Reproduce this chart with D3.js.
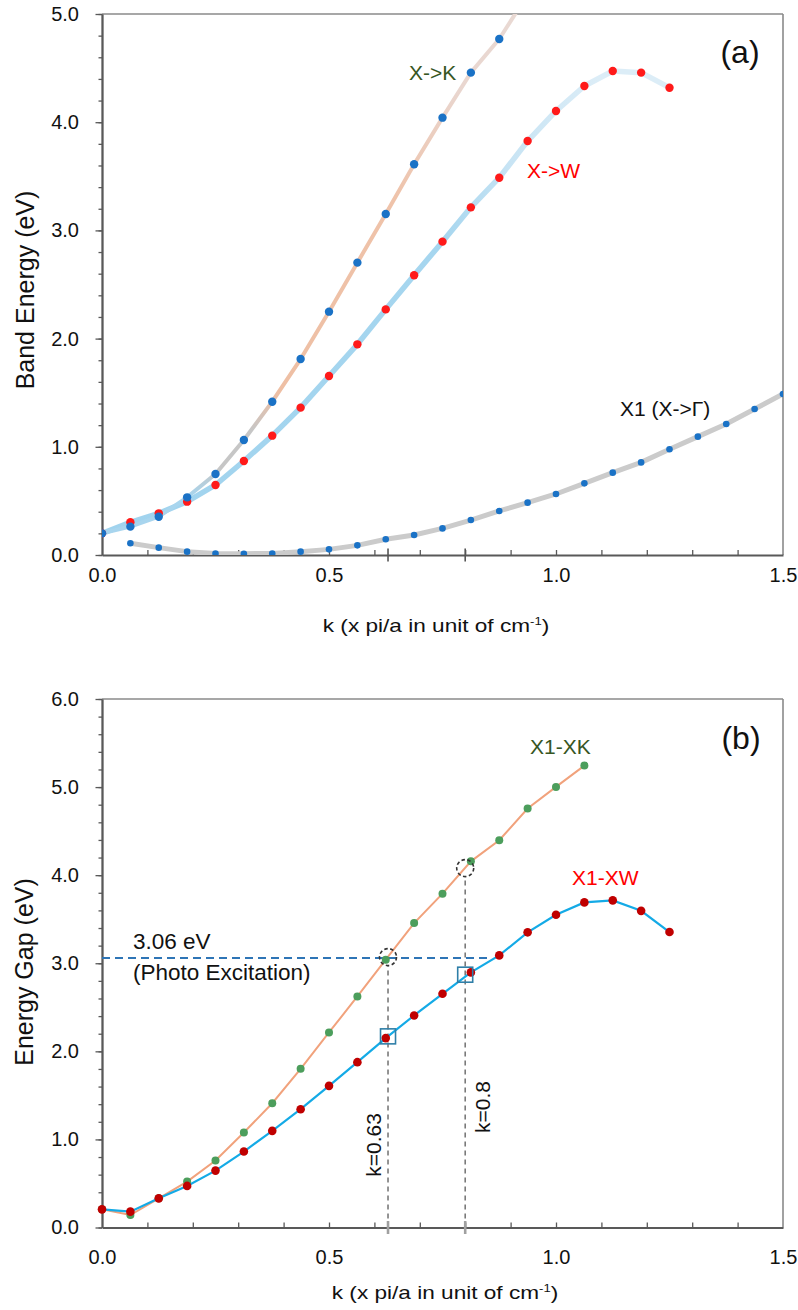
<!DOCTYPE html>
<html>
<head>
<meta charset="utf-8">
<script src="https://cdn.jsdelivr.net/npm/d3@7"></script>
<style>
  body { margin: 0; background: #fff; }
  svg { display: block; }
  text { font-family: "Liberation Sans", Arial, Helvetica, sans-serif; fill: #111; }
</style>
</head>
<body>
<svg id="chart" width="798" height="1310"></svg>
<script>
// k grid (x pi/a), sampled in 1/16 steps
const kGrid = [0, 0.0625, 0.125, 0.1875, 0.25, 0.3125, 0.375, 0.4375, 0.5, 0.5625,
  0.625, 0.6875, 0.75, 0.8125, 0.875, 0.9375, 1.0, 1.0625, 1.125, 1.1875,
  1.25, 1.3125, 1.375, 1.4375, 1.5];

// (a) band energies (eV)
const bandXK = [0.20, 0.262, 0.354, 0.533, 0.749, 1.063, 1.417, 1.811, 2.249, 2.702,
  3.152, 3.611, 4.042, 4.458, 4.769, 5.18];
const bandXW = [0.20, 0.302, 0.385, 0.493, 0.647, 0.869, 1.103, 1.362, 1.654, 1.947,
  2.27, 2.585, 2.896, 3.213, 3.487, 3.826, 4.104, 4.335, 4.473, 4.458, 4.319];
const bandX1 = [null, 0.108, 0.068, 0.031, 0.014, 0.012, 0.014, 0.031, 0.052, 0.089,
  0.145, 0.185, 0.246, 0.323, 0.407, 0.484, 0.564, 0.662, 0.761, 0.856,
  0.977, 1.094, 1.211, 1.349, 1.488];

// (b) energy gaps (eV)
const gapXK = [0.206, 0.142, 0.331, 0.521, 0.76, 1.078, 1.411, 1.801, 2.214, 2.623,
  3.04, 3.456, 3.79, 4.157, 4.396, 4.756, 5.002, 5.244];
const gapXW = [0.206, 0.18, 0.331, 0.472, 0.646, 0.862, 1.097, 1.343, 1.608, 1.877,
  2.15, 2.407, 2.653, 2.896, 3.089, 3.351, 3.551, 3.691, 3.714, 3.595, 3.354];

// photo-excitation markers
const photoEnergy = 3.06;
const photoLineEnd = 0.855;
const markK = [0.63, 0.8];
const circleGap = [3.07, 4.08];
const squareGap = [2.17, 2.87];

// axis ticks
const xTickValues = [0, 0.5, 1.0, 1.5];
const yTicksA = [0, 1, 2, 3, 4, 5];
const yTicksB = [0, 1, 2, 3, 4, 5, 6];

const svg = d3.select("#chart");
const x = d3.scaleLinear().domain([0, 1.5]).range([102, 783]);
const yA = d3.scaleLinear().domain([0, 5]).range([555, 14]);
const yB = d3.scaleLinear().domain([0, 6]).range([1227.5, 699]);

const axisColor = "#595959";
const fmt = d3.format(".1f");

const defs = svg.append("defs");
defs.append("clipPath").attr("id", "clipA")
  .append("rect").attr("x", x(0)).attr("y", yA(5))
  .attr("width", x(1.5) - x(0)).attr("height", yA(0) - yA(5));

// colour runs along the two upper band curves
const gK = defs.append("linearGradient").attr("id", "gradXK")
  .attr("gradientUnits", "userSpaceOnUse")
  .attr("x1", 0).attr("x2", 0).attr("y1", yA(0)).attr("y2", yA(5));
[[0, "#a8d5ee"], [0.11, "#a8d5ee"], [0.16, "#c6c6c6"], [0.23, "#c6c6c6"],
 [0.30, "#eebfa4"], [0.66, "#efc3aa"], [0.86, "#e9d6cf"], [1, "#e9d9d3"]]
  .forEach(([o, c]) => gK.append("stop").attr("offset", o).attr("stop-color", c));
const gW = defs.append("linearGradient").attr("id", "gradXW")
  .attr("gradientUnits", "userSpaceOnUse")
  .attr("x1", x(0)).attr("x2", x(1.5)).attr("y1", 0).attr("y2", 0);
[[0, "#a0d3ee"], [0.5, "#a6d6ef"], [0.6, "#c8e4f4"], [0.73, "#dcedf7"], [1, "#dcedf7"]]
  .forEach(([o, c]) => gW.append("stop").attr("offset", o).attr("stop-color", c));

function drawFrame(y, yMax, yTicks, labelPad) {
  const g = svg.append("g");
  // top and right border
  g.append("line").attr("x1", x(0)).attr("x2", x(1.5)).attr("y1", y(yMax)).attr("y2", y(yMax))
    .attr("stroke", "#8a8a8a").attr("stroke-width", 1.6);
  g.append("line").attr("x1", x(1.5)).attr("x2", x(1.5)).attr("y1", y(yMax)).attr("y2", y(0))
    .attr("stroke", "#8a8a8a").attr("stroke-width", 1.6);

  // y axis: minor ticks every 0.2, labelled majors
  const yMinor = d3.range(0, yMax + 0.001, 0.2);
  const minorY = g.append("g").attr("transform", `translate(${x(0)},0)`)
    .call(d3.axisLeft(y).tickValues(yMinor).tickSize(3.5).tickSizeOuter(0).tickFormat(""));
  const majorY = g.append("g").attr("transform", `translate(${x(0)},0)`)
    .call(d3.axisLeft(y).tickValues(yTicks).tickSize(6.5).tickSizeOuter(0)
      .tickPadding(16.5).tickFormat(fmt));
  majorY.selectAll("text").attr("font-size", 20).attr("fill", "#111")
    .attr("font-family", '"Liberation Sans", Arial, sans-serif');

  // x axis: inward minor ticks every 0.1
  const xMinor = d3.range(0.1, 1.45, 0.1);
  const minorX = g.append("g").attr("transform", `translate(0,${y(0)})`)
    .call(d3.axisBottom(x).tickValues(xMinor).tickSize(-5).tickSizeOuter(0).tickFormat(""));
  const labX = g.append("g").attr("transform", `translate(0,${y(0)})`)
    .call(d3.axisBottom(x).tickValues(xTickValues).tickSize(0).tickSizeOuter(0)
      .tickPadding(labelPad).tickFormat(fmt));
  labX.select(".domain").remove();
  labX.selectAll("text").attr("font-size", 20).attr("fill", "#111")
    .attr("font-family", '"Liberation Sans", Arial, sans-serif');

  [minorY, majorY, minorX].forEach(a => {
    a.select(".domain").attr("stroke", axisColor).attr("stroke-width", 1.8);
    a.selectAll(".tick line").attr("stroke", axisColor).attr("stroke-width", 1.3);
  });
  return g;
}

function xTitle(cx, baseline) {
  const t = svg.append("text")
    .attr("transform", `translate(${cx},${baseline}) scale(1.19,1)`)
    .attr("text-anchor", "middle").attr("font-size", 19);
  t.append("tspan").text("k (x pi/a in unit of cm");
  t.append("tspan").attr("font-size", 11).attr("dy", -7).text("-1");
  t.append("tspan").attr("dy", 7).text(")");
}

function yTitle(cx, cy, label) {
  svg.append("text")
    .attr("transform", `translate(${cx},${cy}) rotate(-90)`)
    .attr("text-anchor", "middle").attr("dominant-baseline", "central")
    .attr("font-size", 25).text(label);
}

function crosses(y, color, width) {
  svg.append("g").selectAll("line").data(markK).join("line")
    .attr("x1", d => x(d)).attr("x2", d => x(d))
    .attr("y1", y(0) - 6.5).attr("y2", y(0) + 6.5)
    .attr("stroke", color).attr("stroke-width", width);
}

/* ---------- panel (a): band energies ---------- */
drawFrame(yA, 5, yTicksA, 13);
crosses(yA, "#555", 1.6);

const lineA = arr => d3.line()
  .defined(d => d != null)
  .x((d, i) => x(kGrid[i]))
  .y(d => yA(d))(arr);

const plotA = svg.append("g").attr("clip-path", "url(#clipA)");
plotA.append("path").attr("d", lineA(bandX1)).attr("fill", "none")
  .attr("stroke", "#cbcbcb").attr("stroke-width", 5).attr("stroke-linejoin", "round");
plotA.append("path").attr("d", lineA(bandXW)).attr("fill", "none")
  .attr("stroke", "url(#gradXW)").attr("stroke-width", 5.5).attr("stroke-linejoin", "round");
plotA.append("path").attr("d", lineA(bandXK)).attr("fill", "none")
  .attr("stroke", "url(#gradXK)").attr("stroke-width", 4).attr("stroke-linejoin", "round");

const ptsA = (arr, r, color) => plotA.append("g").selectAll("circle")
  .data(arr.map((v, i) => [kGrid[i], v]).filter(d => d[1] != null && d[1] <= 5))
  .join("circle").attr("cx", d => x(d[0])).attr("cy", d => yA(d[1]))
  .attr("r", r).attr("fill", color);
ptsA(bandX1, 3.3, "#1a72c6");
ptsA(bandXW, 4.2, "#ff1a1a");
ptsA(bandXK, 4.2, "#1a72c6");

svg.append("text").attr("x", 409).attr("y", 72).attr("dominant-baseline", "central")
  .attr("font-size", 21).style("fill", "#375623").text("X->K");
svg.append("text").attr("x", 527).attr("y", 170).attr("dominant-baseline", "central")
  .attr("font-size", 21).style("fill", "#ff0000").text("X->W");
svg.append("text").attr("x", 620).attr("y", 408).attr("dominant-baseline", "central")
  .attr("font-size", 21).style("fill", "#111").text("X1 (X->\u0393)");
svg.append("text").attr("x", 740).attr("y", 52).attr("text-anchor", "middle")
  .attr("dominant-baseline", "central").attr("font-size", 32).text("(a)");

xTitle(436, 632);
yTitle(25, 290, "Band Energy (eV)");

/* ---------- panel (b): energy gaps ---------- */
drawFrame(yB, 6, yTicksB, 22);

const lineB = arr => d3.line()
  .x((d, i) => x(kGrid[i]))
  .y(d => yB(d))(arr);

// guide lines for the 3.06 eV photo excitation
svg.append("line").attr("x1", x(0)).attr("x2", x(photoLineEnd))
  .attr("y1", yB(photoEnergy)).attr("y2", yB(photoEnergy))
  .attr("stroke", "#2e75b6").attr("stroke-width", 2).attr("stroke-dasharray", "8,5");
svg.append("g").selectAll("line").data(markK).join("line")
  .attr("x1", d => x(d)).attr("x2", d => x(d))
  .attr("y1", yB(0)).attr("y2", (d, i) => yB(circleGap[i]) + 9)
  .attr("stroke", "#7a7a7a").attr("stroke-width", 1.6).attr("stroke-dasharray", "5,4");
crosses(yB, "#a0a0a0", 2.6);

svg.append("path").attr("d", lineB(gapXK)).attr("fill", "none")
  .attr("stroke", "#f1a27c").attr("stroke-width", 2);
svg.append("path").attr("d", lineB(gapXW)).attr("fill", "none")
  .attr("stroke", "#14aae6").attr("stroke-width", 2.2);

svg.append("g").selectAll("circle").data(gapXK).join("circle")
  .attr("cx", (d, i) => x(kGrid[i])).attr("cy", d => yB(d))
  .attr("r", 4).attr("fill", "#4c9e5c");
svg.append("g").selectAll("circle").data(gapXW).join("circle")
  .attr("cx", (d, i) => x(kGrid[i])).attr("cy", d => yB(d))
  .attr("r", 4.3).attr("fill", "#c00000");

// highlighted transitions
svg.append("g").selectAll("circle").data(markK).join("circle")
  .attr("cx", d => x(d)).attr("cy", (d, i) => yB(circleGap[i]))
  .attr("r", 8.5).attr("fill", "none").attr("stroke", "#333")
  .attr("stroke-width", 1.6).attr("stroke-dasharray", "3.5,2.5");
svg.append("g").selectAll("rect").data(markK).join("rect")
  .attr("x", d => x(d) - 7.5).attr("y", (d, i) => yB(squareGap[i]) - 7.5)
  .attr("width", 15).attr("height", 15).attr("fill", "none")
  .attr("stroke", "#2f7fa8").attr("stroke-width", 1.6);

svg.append("text").attr("x", 133).attr("y", 941).attr("dominant-baseline", "central")
  .attr("font-size", 22.5).text("3.06 eV");
svg.append("text").attr("x", 133).attr("y", 972).attr("dominant-baseline", "central")
  .attr("font-size", 22.5).text("(Photo Excitation)");
svg.append("text").attr("x", 530).attr("y", 746).attr("dominant-baseline", "central")
  .attr("font-size", 21).style("fill", "#375623").text("X1-XK");
svg.append("text").attr("x", 572).attr("y", 877).attr("dominant-baseline", "central")
  .attr("font-size", 21).style("fill", "#ff0000").text("X1-XW");
svg.append("text").attr("transform", "translate(373.5,1145) rotate(-90)")
  .attr("text-anchor", "middle").attr("dominant-baseline", "central")
  .attr("font-size", 21).text("k=0.63");
svg.append("text").attr("transform", "translate(482,1107) rotate(-90)")
  .attr("text-anchor", "middle").attr("dominant-baseline", "central")
  .attr("font-size", 21).text("k=0.8");
svg.append("text").attr("x", 741).attr("y", 738).attr("text-anchor", "middle")
  .attr("dominant-baseline", "central").attr("font-size", 32).text("(b)");

xTitle(445, 1299);
yTitle(24, 972, "Energy Gap (eV)");
</script>
</body>
</html>
